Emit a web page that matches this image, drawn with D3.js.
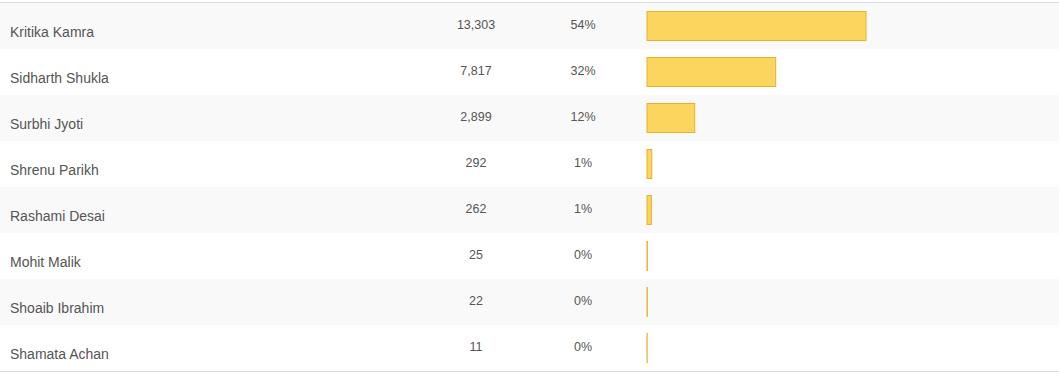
<!DOCTYPE html>
<html>
<head>
<meta charset="utf-8">
<script src="https://cdn.jsdelivr.net/npm/d3@7"></script>
<style>
  body { margin: 0; background: #fff; }
  text { font-family: "Liberation Sans", Arial, sans-serif; fill: #555; }
</style>
</head>
<body>
<svg id="chart" width="1059" height="372"></svg>
<script>
// poll results
const names = ["Kritika Kamra", "Sidharth Shukla", "Surbhi Jyoti", "Shrenu Parikh", "Rashami Desai", "Mohit Malik", "Shoaib Ibrahim", "Shamata Achan"];
const votes = [13303, 7817, 2899, 292, 262, 25, 22, 11];
const percents = ["54%", "32%", "12%", "1%", "1%", "0%", "0%", "0%"];

const rowH = 46;
const tableTop = 3;
const svg = d3.select("#chart");

const y = d3.scaleBand().domain(names).range([tableTop, tableTop + rowH * names.length]);
const x = d3.scaleLinear().domain([0, d3.max(votes)]).range([0, 219]);

const rows = svg.selectAll("g.row")
  .data(names)
  .join("g")
  .attr("class", "row")
  .attr("transform", (d) => `translate(0,${y(d)})`);

rows.append("rect")
  .attr("width", 1059)
  .attr("height", rowH)
  .attr("fill", (d, i) => (i % 2 === 0 ? "#f9f9f9" : "#fff"));

rows.append("text")
  .attr("x", 10)
  .attr("y", 33.5)
  .style("font-size", "14px")
  .text((d) => d);

rows.append("text")
  .attr("x", 476)
  .attr("y", 26)
  .attr("text-anchor", "middle")
  .style("font-size", "12.5px")
  .text((d, i) => d3.format(",")(votes[i]));

rows.append("text")
  .attr("x", 583)
  .attr("y", 26)
  .attr("text-anchor", "middle")
  .style("font-size", "12.5px")
  .text((d, i) => percents[i]);

rows.append("rect")
  .attr("x", 647)
  .attr("y", 8.5)
  .attr("width", (d, i) => x(votes[i]))
  .attr("height", 29)
  .attr("fill", "#fcd55f")
  .attr("stroke", "#e3b32c")
  .attr("stroke-width", 1);

// top and bottom rules
svg.append("line")
  .attr("x1", 0).attr("x2", 1059)
  .attr("y1", 2.5).attr("y2", 2.5)
  .attr("stroke", "#ddd");
svg.append("line")
  .attr("x1", 0).attr("x2", 1059)
  .attr("y1", tableTop + rowH * names.length + 0.5).attr("y2", tableTop + rowH * names.length + 0.5)
  .attr("stroke", "#ddd");
</script>
</body>
</html>
